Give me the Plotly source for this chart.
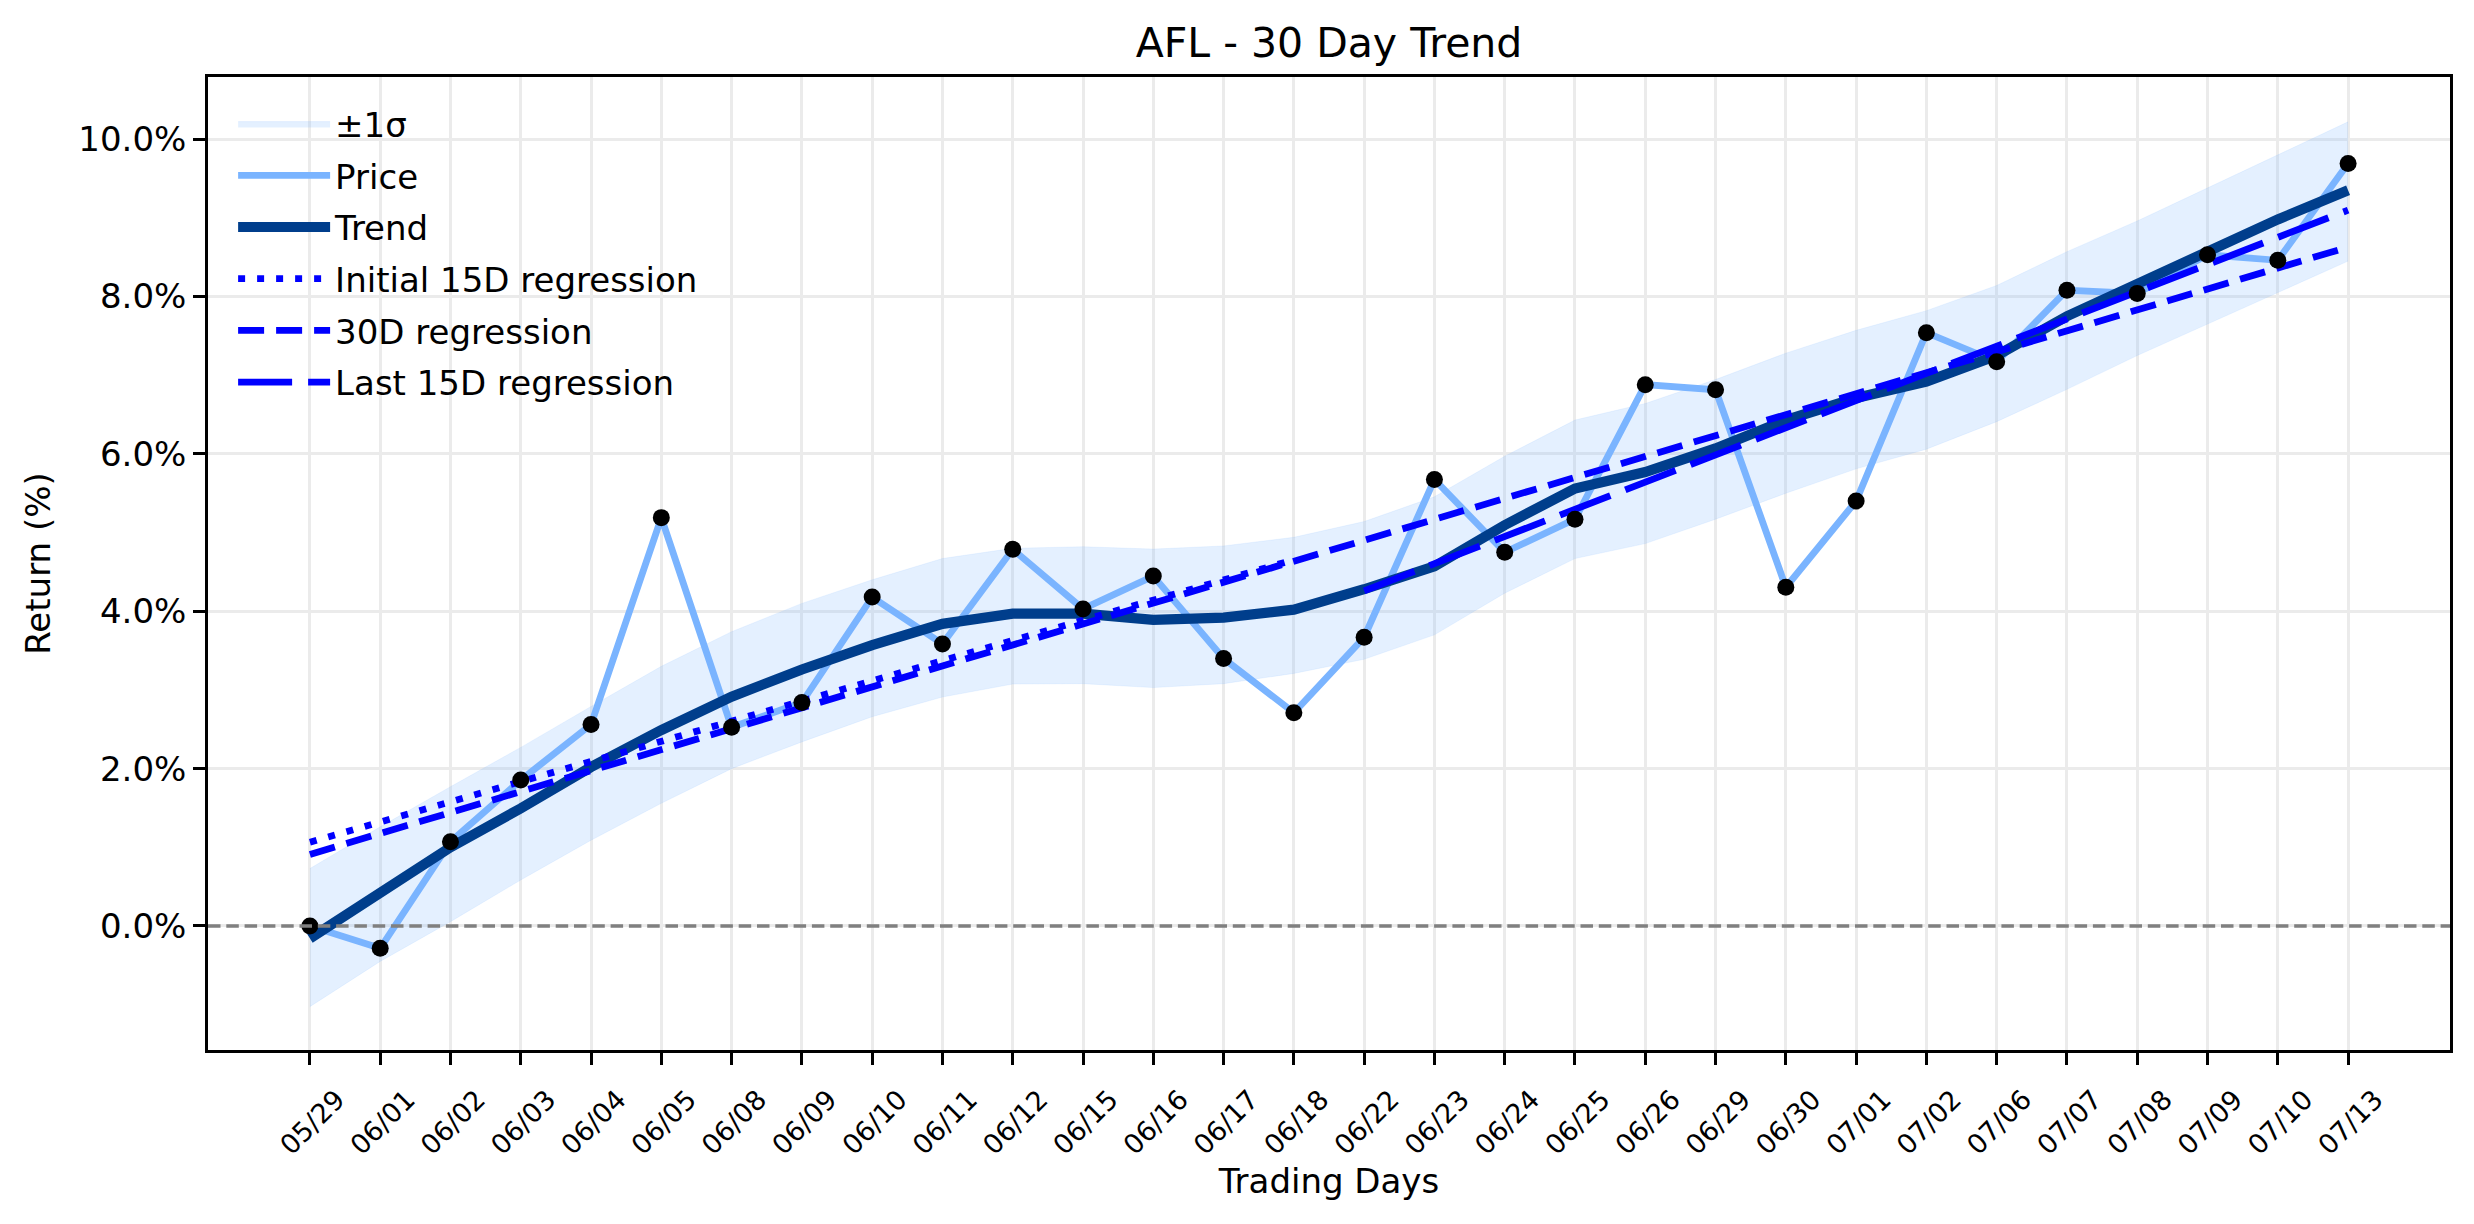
import numpy as np
import plotly.graph_objects as go

dates = ["05/29", "06/01", "06/02", "06/03", "06/04", "06/05", "06/08", "06/09", "06/10", "06/11",
         "06/12", "06/15", "06/16", "06/17", "06/18", "06/22", "06/23", "06/24", "06/25", "06/26",
         "06/29", "06/30", "07/01", "07/02", "07/06", "07/07", "07/08", "07/09", "07/10", "07/13"]

price = [0.0, -0.283, 1.07, 1.855, 2.56, 5.19, 2.525, 2.84, 4.18, 3.585,
         4.787, 4.03, 4.447, 3.40, 2.71, 3.67, 5.675, 4.75, 5.17, 6.88,
         6.815, 4.305, 5.40, 7.54, 7.17, 8.08, 8.04, 8.53, 8.46, 9.69]

trend = [-0.157, 0.415, 1.0, 1.495, 2.02, 2.49, 2.915, 3.26, 3.57, 3.84,
         3.97, 3.97, 3.89, 3.92, 4.02, 4.28, 4.57, 5.095, 5.56, 5.77,
         6.07, 6.43, 6.71, 6.92, 7.25, 7.75, 8.16, 8.56, 8.98, 9.35]

band_upper = [0.73, 1.26, 1.77, 2.27, 2.79, 3.30, 3.74, 4.10, 4.40, 4.67,
              4.80, 4.82, 4.79, 4.83, 4.94, 5.14, 5.455, 5.97, 6.43, 6.64,
              6.945, 7.28, 7.57, 7.82, 8.14, 8.57, 8.96, 9.38, 9.80, 10.22]

band_lower = [-1.025, -0.45, 0.055, 0.585, 1.09, 1.56, 2.00, 2.34, 2.66, 2.91,
              3.075, 3.08, 3.03, 3.08, 3.21, 3.39, 3.70, 4.23, 4.67, 4.86,
              5.17, 5.50, 5.81, 6.06, 6.41, 6.82, 7.25, 7.65, 8.06, 8.45]

# regression windows (start index, end index inclusive)
win_initial = (0, 14)
win_full = (0, 29)
win_last = (15, 29)

y_ticks = [0, 2, 4, 6, 8, 10]

idx = list(range(len(dates)))
p = np.array(price)


def reg_line(win):
    a, b = win
    xs = np.arange(a, b + 1)
    k, c = np.polyfit(xs, p[a:b + 1], 1)
    return [a, b], [k * a + c, k * b + c]


FONT = "DejaVu Sans"
fig = go.Figure()

fig.add_trace(go.Scatter(x=idx, y=band_lower, mode="lines",
                         line=dict(width=1, color="rgba(122,180,255,0.12)"),
                         showlegend=False, hoverinfo="skip"))
fig.add_trace(go.Scatter(x=idx, y=band_upper, mode="lines", fill="tonexty",
                         fillcolor="rgba(122,180,255,0.2)",
                         line=dict(width=1, color="rgba(122,180,255,0.12)"),
                         name="±1σ", legendgroup="g1"))
fig.add_trace(go.Scatter(x=idx, y=price, mode="lines",
                         line=dict(color="#7ab4ff", width=6.8),
                         name="Price", legendgroup="g2"))
fig.add_trace(go.Scatter(x=idx, y=trend, mode="lines",
                         line=dict(color="#003e8c", width=10.2),
                         name="Trend", legendgroup="g3"))

xr, yr = reg_line(win_initial)
fig.add_trace(go.Scatter(x=xr, y=yr, mode="lines",
                         line=dict(color="#0000ff", width=6.8, dash="7px,12px"),
                         name="Initial 15D regression", legendgroup="g4"))
xr, yr = reg_line(win_full)
fig.add_trace(go.Scatter(x=xr, y=yr, mode="lines",
                         line=dict(color="#0000ff", width=6.8, dash="26px,12px"),
                         name="30D regression", legendgroup="g5"))
xr, yr = reg_line(win_last)
fig.add_trace(go.Scatter(x=xr, y=yr, mode="lines",
                         line=dict(color="#0000ff", width=6.8, dash="54px,16px"),
                         name="Last 15D regression", legendgroup="g6"))

fig.add_trace(go.Scatter(x=idx, y=price, mode="markers",
                         marker=dict(color="black", size=17),
                         showlegend=False, hoverinfo="skip"))

fig.add_shape(type="line", xref="paper", yref="y", x0=0, x1=1, y0=0, y1=0,
              line=dict(color="#808080", width=3.4, dash="12.5px,5.8px"),
              layer="above")

fig.update_layout(
    width=2474, height=1224,
    margin=dict(l=208, r=24, t=77, b=174, autoexpand=False),
    paper_bgcolor="white", plot_bgcolor="white",
    font=dict(family=FONT, size=34, color="black"),
    title=dict(text="AFL - 30 Day Trend", x=0.5, xref="paper", xanchor="center",
               y=1 - 42.6 / 1224, yref="container", yanchor="middle",
               font=dict(size=41, color="black", family=FONT)),
    showlegend=True,
    legend=dict(x=0.0112, y=0.9815, xanchor="left", yanchor="top",
                bgcolor="rgba(0,0,0,0)", borderwidth=0,
                font=dict(size=34, family=FONT, color="black"),
                itemwidth=92, tracegroupgap=4.5, traceorder="grouped"),
)

fig.update_xaxes(
    range=[-1.45, 30.45], tickmode="array", tickvals=idx, ticktext=dates,
    tickangle=-45, tickfont=dict(size=27, family=FONT, color="black"),
    ticks="outside", ticklen=12, tickwidth=2.7, tickcolor="black",
    ticklabelshift=27, ticklabelstandoff=8,
    showline=True, linecolor="black", linewidth=2.7, mirror=True,
    showgrid=True, gridcolor="#ebebeb", gridwidth=2.7, zeroline=False,
    title=dict(text="Trading Days", font=dict(size=34, family=FONT, color="black"), standoff=10),
    automargin=False,
)
fig.update_yaxes(
    range=[-1.576, 10.79], tickmode="array", tickvals=y_ticks,
    ticktext=[f"{v:.1f}%" for v in y_ticks],
    tickfont=dict(size=34, family=FONT, color="black"),
    ticks="outside", ticklen=12, tickwidth=2.7, tickcolor="black",
    showline=True, linecolor="black", linewidth=2.7, mirror=True,
    showgrid=True, gridcolor="#ebebeb", gridwidth=2.7, zeroline=False,
    title=dict(text="Return (%)", font=dict(size=34, family=FONT, color="black"), standoff=18),
    automargin=False,
)

fig.write_html("out.html")
